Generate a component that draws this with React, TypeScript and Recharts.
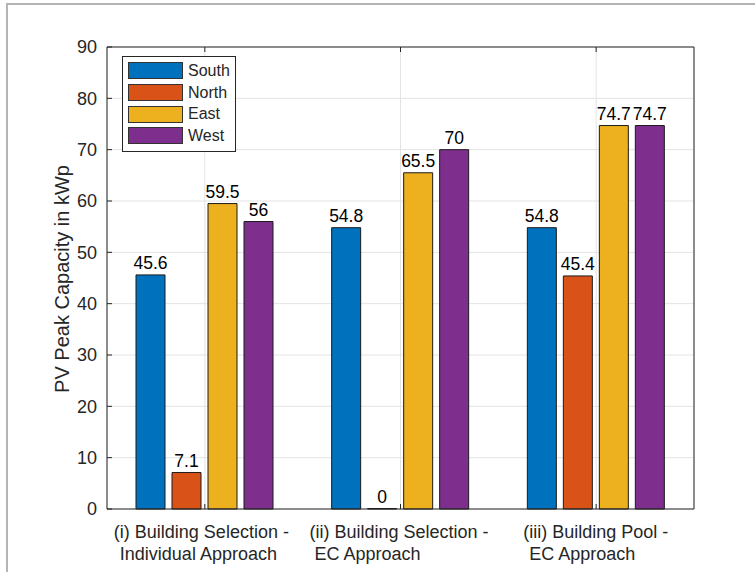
import React from 'react';
import { BarChart, Bar, XAxis, YAxis, CartesianGrid, Legend, LabelList, Label } from 'recharts';

// categories (two text lines each) and series values
const categoryLine1 = ['(i) Building Selection -', '(ii) Building Selection -', '(iii) Building Pool -'];
const categoryLine2 = ['Individual Approach', 'EC Approach', 'EC Approach'];
const south = [45.6, 54.8, 54.8];
const north = [7.1, 0, 45.4];
const east = [59.5, 65.5, 74.7];
const west = [56, 70, 74.7];
const yTicks = [0, 10, 20, 30, 40, 50, 60, 70, 80, 90];

const seriesNames = ['South', 'North', 'East', 'West'];
const seriesColors = ['#0072BD', '#D95319', '#EDB120', '#7E2F8E'];

const data = categoryLine1.map((c, i) => ({
  name: c,
  South: south[i],
  North: north[i],
  East: east[i],
  West: west[i],
}));

const FONT = '"Liberation Sans", Arial, Helvetica, sans-serif';
const AXIS = '#262626';

// MATLAB centres the label block, lines are left aligned inside it
const line1Start = [-91, -91, -73];
const line2Start = [-85, -86, -67];

const CategoryTick = (props: any) => {
  const { x, index } = props;
  return (
    <g>
      <text x={x + line1Start[index]} y={538} fontSize={18} fontFamily={FONT} fill="#262626" textAnchor="start">
        {categoryLine1[index]}
      </text>
      <text x={x + line2Start[index]} y={560} fontSize={18} fontFamily={FONT} fill="#262626" textAnchor="start">
        {categoryLine2[index]}
      </text>
    </g>
  );
};

const NoTick = () => <g />;

const LegendBox = () => (
  <div
    style={{
      width: 112,
      height: 91,
      border: '1px solid #262626',
      background: '#fff',
      boxSizing: 'content-box',
      paddingTop: 3,
      fontFamily: FONT,
    }}
  >
    {seriesNames.map((n, i) => (
      <div key={n} style={{ display: 'flex', alignItems: 'center', height: 21.7 }}>
        <div
          style={{
            width: 53,
            height: 15,
            marginLeft: 5,
            background: seriesColors[i],
            border: '1px solid #333',
          }}
        />
        <span style={{ marginLeft: 5, fontSize: 16, color: '#262626', lineHeight: '16px' }}>{n}</span>
      </div>
    ))}
  </div>
);

const YLabel = () => {
  const cx = 69;
  const cy = 279;
  return (
    <text
      x={cx}
      y={cy}
      transform={`rotate(-90, ${cx}, ${cy})`}
      textAnchor="middle"
      fontSize={20}
      fontFamily={FONT}
      fill="#262626"
    >
      PV Peak Capacity in kWp
    </text>
  );
};

export default function App() {
  return (
    <div style={{ position: 'absolute', left: 0, top: 0, width: 755, height: 572, background: '#fff' }}>
      <div
        style={{
          position: 'absolute',
          left: 6,
          top: 3,
          right: 0,
          bottom: 0,
          borderLeft: '2px solid #b4b4b4',
          borderTop: '2px solid #b4b4b4',
        }}
      />
      <div style={{ position: 'absolute', left: 0, top: 0 }}>
        <BarChart
          width={755}
          height={572}
          data={data}
          margin={{ top: 46, right: 60, bottom: 0, left: 0 }}
          barSize={29}
          barGap={7}
        >
          <CartesianGrid stroke="#e3e3e3" />
          <XAxis
            dataKey="name"
            xAxisId={0}
            height={63}
            stroke={AXIS}
            tickSize={-5}
            tickMargin={5}
            tick={<CategoryTick />}
            interval={0}
          />
          <XAxis
            dataKey="name"
            xAxisId="top"
            orientation="top"
            height={1}
            stroke={AXIS}
            tickSize={-5}
            tick={<NoTick />}
            interval={0}
          />
          <YAxis
            yAxisId={0}
            width={107}
            domain={[0, 90]}
            ticks={yTicks}
            interval={0}
            stroke={AXIS}
            tickSize={-5}
            tickMargin={15}
            tick={{ fontSize: 18, fontFamily: FONT, fill: '#262626' }}
          >
            <Label content={<YLabel />} />
          </YAxis>
          <YAxis
            yAxisId="right"
            orientation="right"
            width={1}
            domain={[0, 90]}
            ticks={yTicks}
            interval={0}
            stroke={AXIS}
            tickSize={-5}
            tick={<NoTick />}
          />
          <Legend
            layout="vertical"
            align="center"
            verticalAlign="middle"
            content={<LegendBox />}
            wrapperStyle={{ left: 122, top: 56, width: 114, height: 95 }}
          />
          {seriesNames.map((n, i) => (
            <Bar
              key={n}
              dataKey={n}
              fill={seriesColors[i]}
              stroke="#1a1a1a"
              strokeWidth={1}
              minPointSize={0.5}
              isAnimationActive={false}
            >
              <LabelList dataKey={n} position="top" offset={6} fontSize={17.5} fontFamily={FONT} fill="#000" />
            </Bar>
          ))}
        </BarChart>
      </div>
    </div>
  );
}
